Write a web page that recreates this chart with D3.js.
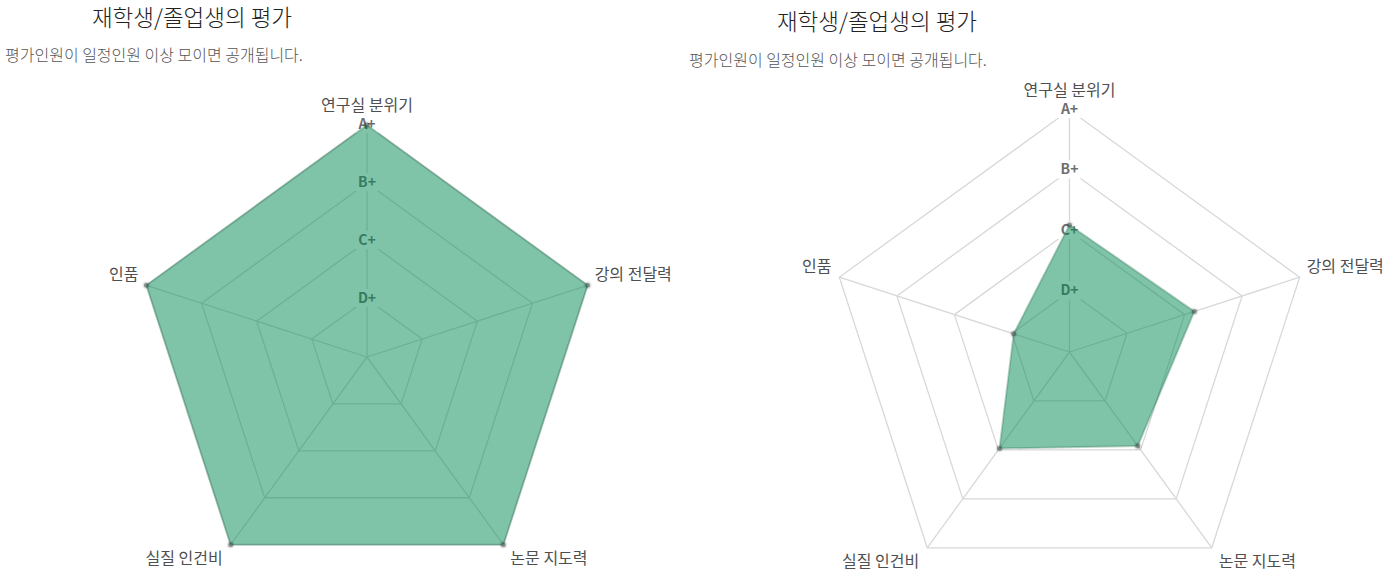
<!DOCTYPE html>
<html>
<head>
<meta charset="utf-8">
<script src="https://cdnjs.cloudflare.com/ajax/libs/d3/7.8.5/d3.min.js"></script>
<style>
  body { margin: 0; background: #fff; }
  svg text { font-family: "Noto Sans CJK KR", "Noto Sans", sans-serif; }
</style>
</head>
<body>
<div id="chart"></div>
<script>
// data
var axes = ["연구실 분위기", "강의 전달력", "논문 지도력", "실질 인건비", "인품"];
var gradeTicks = ["D+", "C+", "B+", "A+"];
var leftValues = [4, 4, 4, 4, 4];
var rightValues = [2.1, 2.17, 1.92, 1.97, 0.97];
var titleText = "재학생/졸업생의 평가";
var noteText = "평가인원이 일정인원 이상 모이면 공개됩니다.";

// SVG layout
var svgWidth = 1400;
var svgHeight = 587;

var svg = d3.select("#chart")
  .append("svg")
  .attr("width", svgWidth)
  .attr("height", svgHeight);

// one panel = title + note + radar
var panels = [
  { titleX: 192, titleY: 26, noteX: 5, noteY: 61, cx: 367, cy: 357, r: 232, values: leftValues },
  { titleX: 877, titleY: 30, noteX: 689, noteY: 66, cx: 1069.5, cy: 352, r: 242, values: rightValues }
];

function drawRadar(p) {
  var g = svg.append("g")
    .attr("transform", `translate(${p.cx}, ${p.cy})`);

  var rScale = d3.scaleLinear()
    .domain([0, gradeTicks.length])
    .range([0, p.r]);

  var angle = d3.scalePoint()
    .domain(axes)
    .range([0, 2 * Math.PI * (axes.length - 1) / axes.length]);

  function pt(name, v) {
    var a = angle(name);
    return [Math.sin(a) * rScale(v), -Math.cos(a) * rScale(v)];
  }

  // grid rings
  var levels = d3.range(1, gradeTicks.length + 1);
  g.selectAll(".ring")
    .data(levels)
    .enter()
    .append("polygon")
    .attr("points", d => axes.map(a => pt(a, d).join(",")).join(" "))
    .attr("fill", "none")
    .attr("stroke", "#d8d8d8")
    .attr("stroke-width", 1.3);

  // spokes
  g.selectAll(".spoke")
    .data(axes)
    .enter()
    .append("line")
    .attr("x1", 0)
    .attr("y1", 0)
    .attr("x2", d => pt(d, gradeTicks.length)[0])
    .attr("y2", d => pt(d, gradeTicks.length)[1])
    .attr("stroke", "#d8d8d8")
    .attr("stroke-width", 1.3);

  // tick labels with white backdrop
  var ticks = g.selectAll(".tick")
    .data(gradeTicks)
    .enter()
    .append("g")
    .attr("transform", (d, i) => `translate(0, ${-rScale(i + 1) - 1})`);

  ticks.append("rect")
    .attr("x", -12)
    .attr("y", -9)
    .attr("width", 24)
    .attr("height", 18)
    .attr("fill", "#fff");

  ticks.append("text")
    .attr("text-anchor", "middle")
    .attr("dy", "0.35em")
    .attr("font-size", "14px")
    .attr("font-weight", "bold")
    .attr("fill", "#6e6e6e")
    .text(d => d);

  // data polygon
  var line = d3.line().curve(d3.curveLinearClosed);
  g.append("path")
    .attr("d", line(axes.map((a, i) => pt(a, p.values[i]))))
    .attr("fill", "rgba(0, 137, 82, 0.5)")
    .attr("stroke", "rgba(40, 110, 80, 0.3)")
    .attr("stroke-width", 2);

  // points
  g.selectAll(".pt")
    .data(axes)
    .enter()
    .append("circle")
    .attr("cx", (d, i) => pt(d, p.values[i])[0])
    .attr("cy", (d, i) => pt(d, p.values[i])[1])
    .attr("r", 2.5)
    .attr("fill", "rgba(60, 80, 70, 0.5)")
    .attr("stroke", "rgba(0, 0, 0, 0.08)")
    .attr("stroke-width", 3);

  // axis names
  g.selectAll(".axisName")
    .data(axes)
    .enter()
    .append("text")
    .attr("x", d => {
      var s = Math.sin(angle(d));
      var x = pt(d, gradeTicks.length)[0];
      if (Math.abs(s) < 0.01) return x;
      return s > 0 ? x + 7 : x - 8;
    })
    .attr("y", d => {
      var c = Math.cos(angle(d));
      var y = pt(d, gradeTicks.length)[1];
      if (Math.abs(Math.sin(angle(d))) < 0.01) return y - 20;
      return c > 0 ? y - 11 : y + 14;
    })
    .attr("dy", "0.35em")
    .attr("text-anchor", d => {
      var s = Math.sin(angle(d));
      if (Math.abs(s) < 0.01) return "middle";
      return s > 0 ? "start" : "end";
    })
    .attr("font-size", "16px")
    .attr("fill", "#4f4f4f")
    .text(d => d);
}

panels.forEach(function(p) {
  svg.append("text")
    .attr("x", p.titleX)
    .attr("y", p.titleY)
    .attr("text-anchor", "middle")
    .attr("font-size", "22.5px")
    .attr("font-weight", 300)
    .attr("fill", "#222")
    .text(titleText);

  svg.append("text")
    .attr("x", p.noteX)
    .attr("y", p.noteY)
    .attr("font-size", "16px")
    .attr("font-weight", 300)
    .attr("fill", "#555")
    .text(noteText);

  drawRadar(p);
});
</script>
</body>
</html>
